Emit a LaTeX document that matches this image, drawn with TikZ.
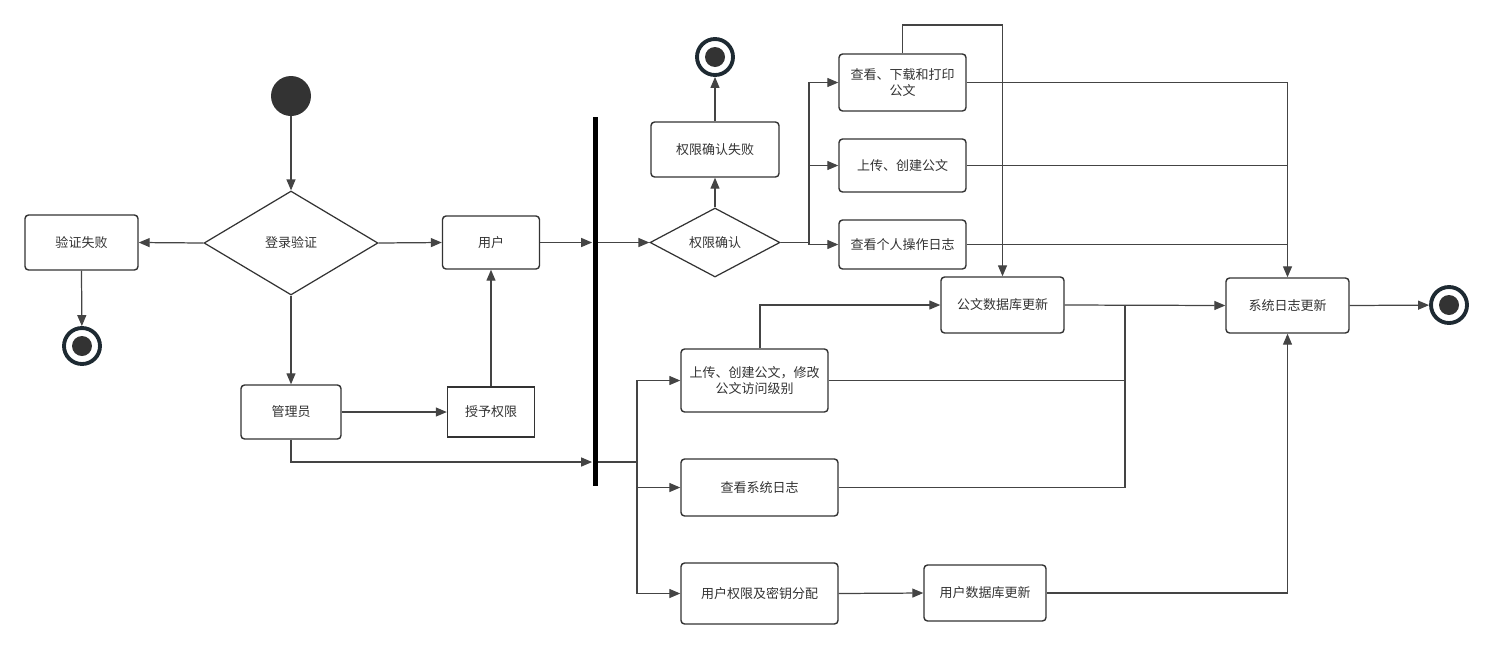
\documentclass[tikz,border=0pt]{standalone}
\usepackage{fontspec}
\newfontfamily\cjk{Noto Sans CJK SC}
\usetikzlibrary{shapes.geometric,arrows.meta}
\definecolor{ink}{HTML}{333333}
\definecolor{wire}{HTML}{444444}
\definecolor{ring}{HTML}{1E2A32}
\tikzset{
  act/.style 2 args={draw=ink, line width=0.8pt, rounded corners=2pt, fill=white,
    minimum width=#1, minimum height=#2, inner sep=1pt, align=center},
  decide/.style 2 args={diamond, draw=ink, line width=0.7pt, inner sep=0pt,
    minimum width=#1, minimum height=#2},
  startstate/.style={circle, fill=ink, minimum size=0.8cm, inner sep=0pt},
  endstate/.style={circle, draw=ring, line width=2.2pt, minimum size=0.72cm, inner sep=0pt,
    path picture={\fill[ink] (path picture bounding box.center) circle (0.2cm);}},
  arr/.style={-{Triangle[length=0.22cm,width=0.18cm]}},
  wires/.style={draw=wire, line width=0.7pt}
}
\begin{document}
\begin{tikzpicture}[x=0.02cm, y=-0.02cm, font=\cjk\fontsize{7.4}{9.6}\selectfont, text=ink]
  \useasboundingbox (0,0) rectangle (1493,650);
  % login part
  \node[startstate] (start) at (291,96) {};
  \node[decide={3.48cm}{2.08cm}] (login) at (291,243) {登录验证};
  \node[act={2.26cm}{1.10cm}] (fail) at (81.5,242.5) {验证失败};
  \node[endstate] (end1) at (82,346) {};
  \node[act={1.94cm}{1.06cm}] (user) at (491,242.5) {用户};
  \node[act={2.0cm}{1.08cm}] (admin) at (291,412) {管理员};
  \node[act={1.74cm}{1.0cm}, rounded corners=0pt] (grant) at (491,412) {授予权限};
  \node[fill=black, minimum width=0.1cm, minimum height=7.38cm, inner sep=0pt] (bar) at (595,301.5) {};
  % user branch
  \node[decide={2.6cm}{1.38cm}] (perm) at (715,242.5) {权限确认};
  \node[act={2.56cm}{1.10cm}] (permfail) at (715,149.5) {权限确认失败};
  \node[endstate] (end2) at (715,57) {};
  \node[act={2.54cm}{1.14cm}] (view) at (902.5,82.5) {查看、下载和打印\\公文};
  \node[act={2.54cm}{1.06cm}] (upload) at (902.5,165.5) {上传、创建公文};
  \node[act={2.54cm}{0.98cm}] (mylog) at (902.5,244.5) {查看个人操作日志};
  \node[act={2.46cm}{1.12cm}] (docdb) at (1002.5,305) {公文数据库更新};
  \node[act={2.46cm}{1.10cm}] (syslog) at (1287.5,305.5) {系统日志更新};
  \node[endstate] (end3) at (1449,305) {};
  % admin branch
  \node[act={2.94cm}{1.26cm}] (upmod) at (754.5,380.5) {上传、创建公文，修改\\公文访问级别};
  \node[act={3.14cm}{1.14cm}] (sysview) at (759.5,487.5) {查看系统日志};
  \node[act={3.14cm}{1.22cm}] (keys) at (759.5,593.5) {用户权限及密钥分配};
  \node[act={2.44cm}{1.12cm}] (userdb) at (985,593) {用户数据库更新};
  \coordinate (split) at (809,242.5);
  \coordinate (fork) at (637,462);
  \coordinate (merge) at (1125,305);
  \coordinate (roof) at (0,25);

  \begin{scope}[wires]
    \draw[arr] (start) -- (login.north);
    \draw[arr] (login.west) -- (fail.east);
    \draw[arr] (fail.south) -- (end1);
    \draw[arr] (login.east) -- (user.west);
    \draw[arr] (login.south) -- (admin.north);
    \draw[arr] (admin.east) -- (grant.west);
    \draw[arr] (grant.north) -- (user.south);
    \draw[arr] (user.east) -- (bar.west |- user.east);
    \draw[arr] (bar.east |- perm.west) -- (perm.west);
    \draw[arr] (perm.north) -- (permfail.south);
    \draw[arr] (permfail.north) -- (end2);
    \draw (perm.east) -- (split);
    \foreach \task in {view, upload, mylog}
      \draw[arr] (split) |- (\task.west);
    \draw[arr] (view.north) |- (docdb.north |- roof) -- (docdb.north);
    \draw[arr] (view.east) -| (syslog.north);
    \draw (upload.east) -- (upload.east -| syslog.north);
    \draw (mylog.east) -- (mylog.east -| syslog.north);
    \draw[arr] (admin.south) |- (bar.west |- fork);
    \draw (bar.east |- fork) -- (fork);
    \foreach \task in {upmod, sysview, keys}
      \draw[arr] (fork) |- (\task.west);
    \draw[arr] ([xshift=0.11cm]upmod.north) |- (docdb.west);
    \draw[arr] (docdb.east) -- (syslog.west);
    \draw (upmod.east) -| (merge);
    \draw (sysview.east) -| (merge);
    \draw[arr] (keys.east) -- (userdb.west);
    \draw[arr] (userdb.east) -| (syslog.south);
    \draw[arr] (syslog.east) -- (end3);
  \end{scope}
\end{tikzpicture}
\end{document}
